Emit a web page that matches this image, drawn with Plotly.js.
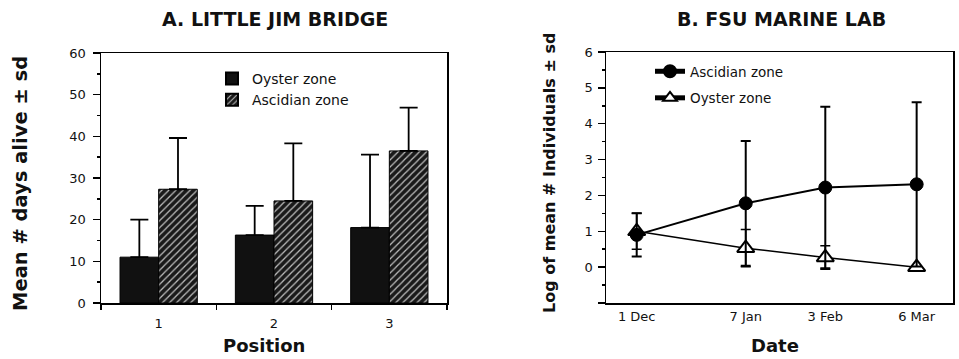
<!DOCTYPE html>
<html>
<head>
<meta charset="utf-8">
<script src="https://cdn.plot.ly/plotly-3.0.1.min.js"></script>
<style>html,body{margin:0;padding:0;background:#fff;}#chart{width:959px;height:359px;}</style>
</head>
<body>
<div id="chart"></div>
<script>
// Panel A: Little Jim Bridge
const positions = [1, 2, 3];
const positionLabels = ['1', '2', '3'];
const oysterDays = [11.0, 16.3, 18.1];
const oysterDaysSd = [9.0, 7.0, 17.5];
const ascidianDays = [27.3, 24.5, 36.5];
const ascidianDaysSd = [12.3, 13.8, 10.4];

// Panel B: FSU Marine Lab
const dates = ['1989-12-01', '1990-01-07', '1990-02-03', '1990-03-06'];
const dateLabels = ['1 Dec', '7 Jan', '3 Feb', '6 Mar'];
const ascidianLog = [0.9, 1.78, 2.22, 2.31];
const ascidianLogSd = [0.6, 1.74, 2.25, 2.29];
const oysterLog = [1.0, 0.53, 0.27, 0.0];
const oysterLogSd = [0.5, 0.52, 0.33, 0.0];

const W = 959, H = 359;
const px = v => v / W;
const py = v => 1 - v / H;
const tickFont = {family: 'DejaVu Sans', size: 13, color: '#111'};
const boldFont = s => ({family: 'DejaVu Sans', size: s, color: '#111', weight: 'bold'});

const traces = [
  {
    type: 'bar', x: positions, y: oysterDays, name: 'Oyster zone',
    xaxis: 'x', yaxis: 'y', legend: 'legend',
    marker: {color: '#111', line: {color: '#000', width: 1}},
    error_y: {type: 'data', array: oysterDaysSd, arrayminus: [0, 0, 0], symmetric: false,
              color: '#000', thickness: 1.8, width: 9}
  },
  {
    type: 'bar', x: positions, y: ascidianDays, name: 'Ascidian zone',
    xaxis: 'x', yaxis: 'y', legend: 'legend',
    marker: {color: '#1a1a1a', line: {color: '#000', width: 1},
             pattern: {shape: '/', bgcolor: '#1a1a1a', fgcolor: '#bdbdbd', size: 5, solidity: 0.25}},
    error_y: {type: 'data', array: ascidianDaysSd, arrayminus: [0, 0, 0], symmetric: false,
              color: '#000', thickness: 1.8, width: 9}
  },
  {
    type: 'scatter', mode: 'lines+markers', x: dates, y: oysterLog, name: 'Oyster zone',
    xaxis: 'x2', yaxis: 'y2', legend: 'legend2', legendrank: 2, legendgroup: 'o',
    line: {color: '#000', width: 1.5},
    marker: {symbol: 'triangle-up', size: 15, color: '#fff', line: {color: '#000', width: 2}},
    error_y: {type: 'data', array: oysterLogSd, color: '#000', thickness: 1.5, width: 5}
  },
  {
    type: 'scatter', mode: 'lines+markers', x: dates, y: ascidianLog, name: 'Ascidian zone',
    xaxis: 'x2', yaxis: 'y2', legend: 'legend2', legendrank: 1, legendgroup: 'a',
    line: {color: '#000', width: 2},
    marker: {symbol: 'circle', size: 13, color: '#000', line: {color: '#000', width: 1}},
    error_y: {type: 'data', array: ascidianLogSd, color: '#000', thickness: 2, width: 5}
  }
];

const frame = {showline: true, linecolor: '#000', linewidth: 1.5, mirror: true, showgrid: false, zeroline: false};

const layout = {
  width: W, height: H,
  margin: {l: 0, r: 0, t: 0, b: 0},
  paper_bgcolor: '#fff', plot_bgcolor: '#fff',
  barmode: 'group', bargap: 0.33, bargroupgap: 0,
  font: {family: 'DejaVu Sans', color: '#111'},
  xaxis: Object.assign({}, frame, {
    domain: [px(101), px(447)], anchor: 'y', range: [0.5, 3.5],
    tickvals: positions, ticktext: positionLabels, ticks: '', tickfont: tickFont,
    ticklabelstandoff: 8,
    minor: {tick0: 0.5, dtick: 1, ticks: 'outside', ticklen: 5, tickwidth: 1.5, tickcolor: '#000'}
  }),
  yaxis: Object.assign({}, frame, {
    domain: [py(303), py(53)], anchor: 'x', range: [0, 60],
    tickmode: 'linear', tick0: 0, dtick: 10, ticks: 'outside', ticklen: 7, tickwidth: 1.5,
    tickcolor: '#000', tickfont: tickFont, ticklabelstandoff: 4,
    minor: {dtick: 5, ticks: 'outside', ticklen: 3, tickwidth: 1.5, tickcolor: '#000'}
  }),
  xaxis2: Object.assign({}, frame, {
    domain: [px(606), px(953)], anchor: 'y2', type: 'date',
    range: ['1989-11-20 14:00', '1990-03-18 08:00'],
    tickvals: dates, ticktext: dateLabels, ticks: '', tickfont: tickFont, ticklabelstandoff: 1
  }),
  yaxis2: Object.assign({}, frame, {
    domain: [py(303), py(52)], anchor: 'x2', range: [-1, 6],
    tickvals: [-1, 0, 1, 2, 3, 4, 5, 6], ticktext: ['', '0', '1', '2', '3', '4', '5', '6'],
    ticks: 'outside', ticklen: 7, tickwidth: 1.5, tickcolor: '#000', tickfont: tickFont,
    ticklabelstandoff: 2,
    minor: {dtick: 0.5, ticks: 'outside', ticklen: 3, tickwidth: 1.5, tickcolor: '#000'}
  }),
  legend: {
    x: px(212), y: py(63), xanchor: 'left', yanchor: 'top',
    bgcolor: 'rgba(0,0,0,0)', font: {family: 'DejaVu Sans', size: 14, color: '#111'},
    traceorder: 'normal', itemsizing: 'constant'
  },
  legend2: {
    x: px(650), y: py(56), xanchor: 'left', yanchor: 'top',
    bgcolor: 'rgba(0,0,0,0)', font: {family: 'DejaVu Sans', size: 13.5, color: '#111'},
    tracegroupgap: 6, itemsizing: 'constant'
  },
  showlegend: true,
  annotations: [
    {text: 'A. LITTLE JIM BRIDGE', x: px(275), y: py(19), xref: 'paper', yref: 'paper',
     showarrow: false, xanchor: 'center', yanchor: 'middle', font: boldFont(19)},
    {text: 'B. FSU MARINE LAB', x: px(781), y: py(19), xref: 'paper', yref: 'paper',
     showarrow: false, xanchor: 'center', yanchor: 'middle', font: boldFont(19)},
    {text: 'Mean # days alive ± sd', x: px(20), y: py(184), xref: 'paper', yref: 'paper',
     showarrow: false, xanchor: 'center', yanchor: 'middle', textangle: -90, font: boldFont(19.5)},
    {text: 'Log of mean # Individuals ± sd', x: px(549), y: py(173), xref: 'paper', yref: 'paper',
     showarrow: false, xanchor: 'center', yanchor: 'middle', textangle: -90, font: boldFont(16)},
    {text: 'Position', x: px(264), y: py(358), xref: 'paper', yref: 'paper',
     showarrow: false, xanchor: 'center', yanchor: 'bottom', font: boldFont(18)},
    {text: 'Date', x: px(775), y: py(358), xref: 'paper', yref: 'paper',
     showarrow: false, xanchor: 'center', yanchor: 'bottom', font: boldFont(18)}
  ]
};

Plotly.newPlot('chart', traces, layout, {staticPlot: true, displayModeBar: false});
</script>
</body>
</html>
